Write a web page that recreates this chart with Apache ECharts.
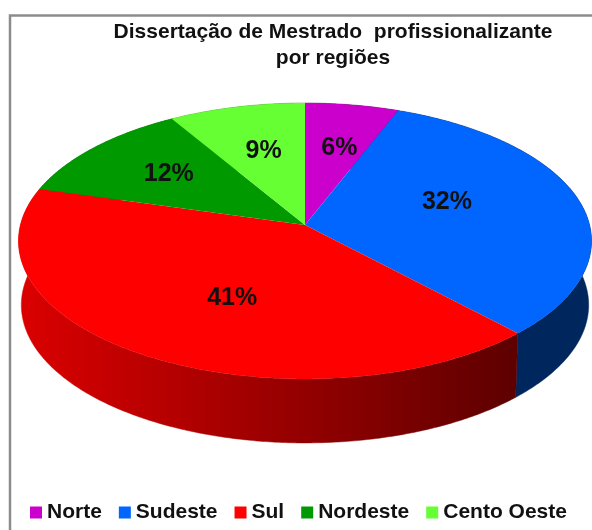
<!DOCTYPE html>
<html><head><meta charset="utf-8">
<style>html,body{margin:0;padding:0;background:#fff;overflow:hidden}#c{width:592px;height:530px}</style>
<script src="https://cdn.jsdelivr.net/npm/echarts@6/dist/echarts.min.js"></script>
</head><body><div id="c"></div>
<script>
const regions = ['Norte', 'Sudeste', 'Sul', 'Nordeste', 'Cento Oeste'];
const shares = [5.9, 32.1, 41.4, 12.0, 8.6];
const colors = ['#cc00cc', '#0066ff', '#ff0000', '#009900', '#66ff33'];
const titleLines = ['Dissertação de Mestrado  profissionalizante', 'por regiões'];

// projection of the tilted disc
const disc = { cx: 305, cy: 225, a: 284.6, b: 136.1, k: 0.1158, depth: 64, shrink: 0.99 };
const labelRadius = [0.64, 0.51, 0.5, 0.62, 0.55];
const labelNudge = [[3, 3], [1, -10], [5, 12], [-2, -2], [-2, -6]];
const total = shares.reduce((s, v) => s + v, 0);
const angleOf = (v) => v / total * Math.PI * 2;

function project(theta, r) {
  const x = Math.sin(theta) * r, y = -Math.cos(theta) * r;
  const d = 1 - disc.k * y;
  return [disc.cx + disc.a * x / d, disc.cy + disc.b * y / d];
}
function rimBelow(theta) {
  const p = project(theta, 1);
  return [disc.cx + (p[0] - disc.cx) * disc.shrink, p[1] + disc.depth];
}
function arc(a0, a1, fn) {
  const n = Math.max(2, Math.ceil((a1 - a0) / 0.01)), pts = [];
  for (let i = 0; i <= n; i++) pts.push(fn(a0 + (a1 - a0) * i / n));
  return pts;
}
function shade(hex, f) {
  const n = parseInt(hex.slice(1), 16);
  return 'rgb(' + [(n >> 16) & 255, (n >> 8) & 255, n & 255].map(c => Math.round(c * f)).join(',') + ')';
}
function sliceRange(i) {
  const start = shares.slice(0, i).reduce((s, v) => s + v, 0);
  return [angleOf(start), angleOf(start + shares[i])];
}

const series = [];
regions.forEach((name, i) => {
  series.push({
    type: 'custom', name, coordinateSystem: 'none', z: 1, silent: true,
    itemStyle: { color: colors[i] }, data: [shares[i]],
    renderItem() {
      const [a0, a1] = sliceRange(i);
      const pts = arc(a0, a1, t => project(t, 1)).concat(arc(a0, a1, rimBelow).reverse());
      const fill = new echarts.graphic.LinearGradient(20, 0, 515, 0, [
        { offset: 0, color: shade(colors[i], 0.86) },
        { offset: 1, color: shade(colors[i], 0.37) }
      ], true);
      return { type: 'polygon', shape: { points: pts }, style: { fill, stroke: fill, lineWidth: 0.5 } };
    }
  });
});
regions.forEach((name, i) => {
  series.push({
    type: 'custom', name, coordinateSystem: 'none', z: 2, silent: true,
    itemStyle: { color: colors[i] }, data: [shares[i]],
    renderItem() {
      const [a0, a1] = sliceRange(i);
      const pts = [[disc.cx, disc.cy]].concat(arc(a0, a1, t => project(t, 1)));
      const lp = project((a0 + a1) / 2, labelRadius[i]);
      return { type: 'group', children: [
        { type: 'polygon', shape: { points: pts }, style: { fill: colors[i] } },
        { type: 'text', z2: 10, style: { x: lp[0] + labelNudge[i][0], y: lp[1] + labelNudge[i][1], text: Math.round(shares[i]) + '%',
          fill: '#111', font: 'bold 25px "Liberation Sans", Arial, sans-serif', align: 'center', verticalAlign: 'middle' } }
      ] };
    }
  });
});

const chart = echarts.init(document.getElementById('c'), null, { renderer: 'canvas' });
chart.setOption({
  animation: false,
  backgroundColor: '#fff',
  graphic: [{ type: 'polyline', z: 0, shape: { points: [[10, 530], [10, 15.5], [592, 15.5]] },
    style: { stroke: '#8c8c8c', lineWidth: 2.5, fill: 'none' } }],
  title: {
    text: titleLines.join('\n'), left: 328, top: 14, textAlign: 'center',
    textStyle: { fontFamily: '"Liberation Sans", Arial, sans-serif', fontWeight: 'bold', fontSize: 21, lineHeight: 26, color: '#111' }
  },
  legend: {
    data: regions, left: 30, top: 502, padding: 0, itemWidth: 12, itemHeight: 12, itemGap: 17, icon: 'rect', selectedMode: false,
    textStyle: { fontFamily: '"Liberation Sans", Arial, sans-serif', fontWeight: 'bold', fontSize: 21, color: '#111' }
  },
  series
});
</script></body></html>
